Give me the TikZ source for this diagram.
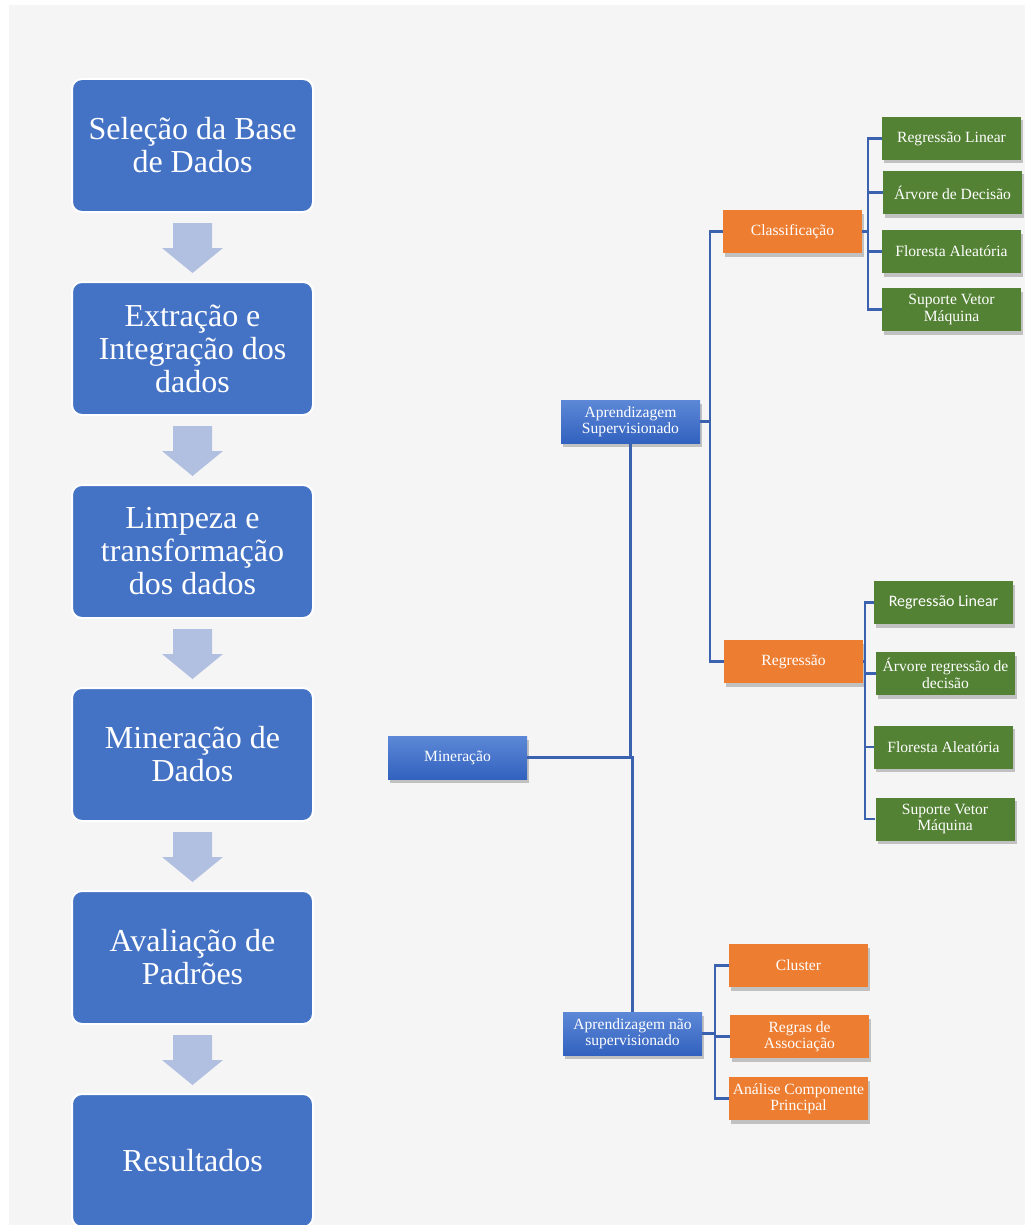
\documentclass[tikz,border=0pt]{standalone}
\usepackage{fontspec}
\setmainfont{Liberation Serif}
\newfontfamily\calib{Carlito}
\usetikzlibrary{shadows}
\definecolor{bg}{HTML}{F5F5F5}
\definecolor{bblue}{HTML}{4472C4}
\definecolor{arrowc}{HTML}{B1BFE1}
\definecolor{orng}{HTML}{ED7D31}
\definecolor{grn}{HTML}{548235}
\definecolor{linec}{HTML}{3B62AE}
\definecolor{gtop}{HTML}{5D88D7}
\definecolor{gbot}{HTML}{3262BF}
\begin{document}
\begin{tikzpicture}[x=1pt,y=-1pt,
  bigbox/.style={draw=white, line width=2pt, fill=bblue, rounded corners=10pt,
    minimum width=241pt, minimum height=133pt, text=white, align=center,
    font=\fontsize{32}{33}\selectfont, inner sep=0pt},
  smallbox/.style={minimum width=139pt, minimum height=43pt, text=white, align=center,
    font=\fontsize{15.6}{16.5}\selectfont, inner sep=0pt,
    drop shadow={shadow xshift=2pt, shadow yshift=-3.5pt, opacity=0.3, fill=black!70}},
  bluebox/.style={smallbox, top color=gtop, bottom color=gbot},
  orangebox/.style={smallbox, fill=orng},
  greenbox/.style={smallbox, fill=grn},
  conn/.style={draw=linec, line width=2.5pt},
  blockarrow/.style={fill=arrowc}
]
\useasboundingbox (0,0) rectangle (1025,1225);
\fill[white] (0,0) rectangle (1025,1225);
\fill[bg] (9,5) rectangle (1025,1225);

% left flow
\node[bigbox] (b1) at (192.5,145.5) {Seleção da Base\\de Dados};
\node[bigbox] (b2) at (192.5,348.5) {Extração e\\Integração dos\\dados};
\node[bigbox] (b3) at (192.5,551.5) {Limpeza e\\transformação\\dos dados};
\node[bigbox] (b4) at (192.5,754.5) {Mineração de\\Dados};
\node[bigbox] (b5) at (192.5,957.5) {Avaliação de\\Padrões};
\node[bigbox] (b6) at (192.5,1160.5) {Resultados};
\foreach \b in {b1,b2,b3,b4,b5}{
  \fill[blockarrow, shift={(\b.south)}] (-19.5,10) -- (19.5,10) -- (19.5,35) -- (30.5,35)
    -- (0,60) -- (-30.5,35) -- (-19.5,35) -- cycle;
}

% tree
\node[bluebox] (min) at (457.5,757.5) {Mineração};
\node[bluebox] (as) at (630.5,421.5) {Aprendizagem\\Supervisionado};
\node[bluebox] (ans) at (632.5,1033.5) {Aprendizagem não\\supervisionado};
\node[orangebox] (cla) at (792.5,231.5) {Classificação};
\node[orangebox] (reg) at (793.5,661.5) {Regressão};
\node[greenbox] (c1) at (951.5,138.5) {Regressão Linear};
\node[greenbox] (c2) at (952.5,192.5) {Árvore de Decisão};
\node[greenbox] (c3) at (951.5,251.5) {Floresta Aleatória};
\node[greenbox] (c4) at (951.5,309.5) {Suporte Vetor\\Máquina};
\node[greenbox] (r1) at (943.5,602.5) {\calib\fontsize{16}{17}\selectfont Regressão Linear};
\node[greenbox] (r2) at (945.5,673.5) {Árvore regressão de\\decisão};
\node[greenbox] (r3) at (943.5,747) {Floresta Aleatória};
\node[greenbox] (r4) at (945,819) {Suporte Vetor\\Máquina};
\node[orangebox] (u1) at (798.5,965.5) {Cluster};
\node[orangebox] (u2) at (799.5,1036.5) {Regras de\\Associação};
\node[orangebox] (u3) at (798.5,1098.5) {Análise Componente\\Principal};

\coordinate (j1) at (710,421.5);
\coordinate (j2) at (868,231.5);
\coordinate (j3) at (865,661.5);
\coordinate (j4) at (715,1033.5);

\draw[conn] (min.east) -| (as.south);
\draw[conn] (min.east) -| (ans.north);
\draw[conn] (as.east) -- (j1);
\draw[conn] (cla.west) -| (j1) |- (reg.west);
\draw[conn] (cla.east) -- (j2);
\foreach \c in {c1,c2,c3,c4}{ \draw[conn] (j2) |- (\c.west); }
\draw[conn] (reg.east) -- (j3);
\foreach \c in {r1,r2,r3,r4}{ \draw[conn] (j3) |- (\c.west); }
\draw[conn] (ans.east) -- (j4);
\foreach \c in {u1,u2,u3}{ \draw[conn] (j4) |- (\c.west); }
\end{tikzpicture}
\end{document}
